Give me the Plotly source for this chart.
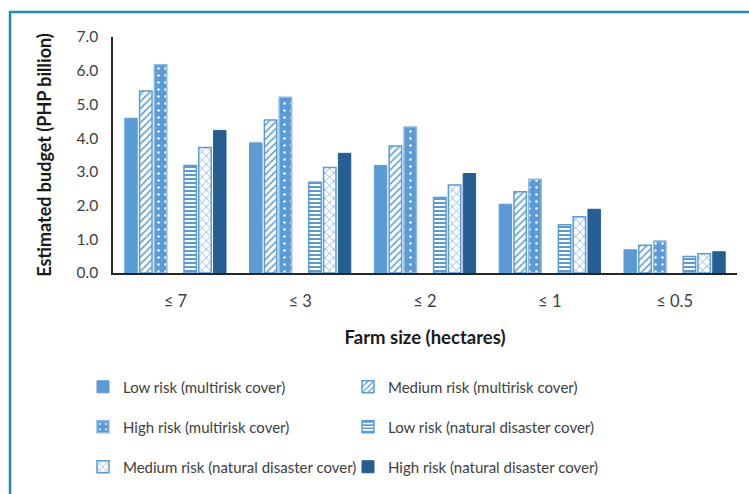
import plotly.graph_objects as go

# Farm-size categories and estimated budgets (PHP billion)
farm_sizes = ["≤ 7", "≤ 3", "≤ 2", "≤ 1", "≤ 0.5"]

low_multi = [4.59, 3.86, 3.19, 2.04, 0.69]
medium_multi = [5.40, 4.54, 3.77, 2.41, 0.82]
high_multi = [6.18, 5.21, 4.33, 2.78, 0.95]
low_natural = [3.19, 2.69, 2.24, 1.43, 0.49]
medium_natural = [3.72, 3.13, 2.61, 1.67, 0.57]
high_natural = [4.23, 3.55, 2.95, 1.89, 0.63]

y_ticks = [0, 1, 2, 3, 4, 5, 6, 7]

BLUE = "#5B9BD5"
DARK = "#255E91"
EDGE = "#8DB8E2"
TEXT = "#404040"
FONT = "Lato"

# (name, values, marker style, legend row)
series = [
    ("Low risk (multirisk cover)", low_multi,
     dict(color=BLUE, line=dict(color=BLUE, width=1)), "legend"),
    ("Medium risk (multirisk cover)", medium_multi,
     dict(color="white", line=dict(color=BLUE, width=1.5),
          pattern=dict(shape="/", fgcolor=BLUE, bgcolor="white",
                       fillmode="replace", size=5, solidity=0.3)), "legend"),
    ("High risk (multirisk cover)", high_multi,
     dict(color=BLUE, line=dict(color=EDGE, width=1.5),
          pattern=dict(shape=".", fgcolor="white", bgcolor=BLUE,
                       fillmode="replace", size=7, solidity=0.1)), "legend2"),
    ("Low risk (natural disaster cover)", low_natural,
     dict(color="white", line=dict(color=BLUE, width=1.5),
          pattern=dict(shape="-", fgcolor=BLUE, bgcolor="white",
                       fillmode="replace", size=4, solidity=0.5)), "legend2"),
    ("Medium risk (natural disaster cover)", medium_natural,
     dict(color="white", line=dict(color=BLUE, width=1.5),
          pattern=dict(shape="x", fgcolor=BLUE, bgcolor="white",
                       fillmode="replace", size=6, solidity=0.2)), "legend3"),
    ("High risk (natural disaster cover)", high_natural,
     dict(color=DARK, line=dict(color=DARK, width=1)), "legend3"),
]

fig = go.Figure()
for i, (name, vals, marker, leg) in enumerate(series):
    if i == 3:
        # empty slot separating the two cover types within each group
        fig.add_trace(go.Bar(x=farm_sizes, y=[None] * len(farm_sizes),
                             showlegend=False, hoverinfo="skip",
                             marker=dict(color="rgba(0,0,0,0)")))
    fig.add_trace(go.Bar(x=farm_sizes, y=vals, name=name, marker=marker,
                         legend=leg))

plot_h = 237
legend_rows = {"legend": 387, "legend2": 427, "legend3": 467}
legend_common = dict(
    orientation="h", x=(83 - 113) / 624, xanchor="left", yanchor="middle",
    entrywidth=220, entrywidthmode="pixels",
    font=dict(family=FONT, size=15, color=TEXT),
    itemwidth=30, traceorder="normal", bgcolor="rgba(0,0,0,0)",
)
legend_layout = {
    key: dict(legend_common, y=(274 - ypix) / plot_h)
    for key, ypix in legend_rows.items()
}

fig.update_layout(
    width=749, height=494,
    margin=dict(l=113, r=12, t=37, b=220),
    paper_bgcolor="white", plot_bgcolor="white",
    barmode="group", bargap=0.17, bargroupgap=0.16,
    font=dict(family=FONT, color=TEXT, size=15),
    showlegend=True,
    **legend_layout,
    xaxis=dict(
        showline=True, linecolor="#262626", linewidth=1.5,
        ticks="", tickfont=dict(size=16.5, color=TEXT),
        ticklabelstandoff=12,
        showgrid=False,
        title=dict(text="<b>Farm size (hectares)</b>",
                   font=dict(size=18.5, color="#1a1a1a"), standoff=22),
    ),
    yaxis=dict(
        range=[0, 7], tickvals=y_ticks, tickformat=".1f",
        showline=True, linecolor="#262626", linewidth=1.5,
        ticks="", showgrid=False, zeroline=False,
        ticklabelstandoff=10,
        tickfont=dict(size=15.5, color=TEXT),
        title=dict(text="<b>Estimated budget (PHP billion)</b>",
                   font=dict(size=18, color="#1a1a1a"), standoff=20),
    ),
    shapes=[dict(
        type="rect", xref="paper", yref="paper",
        x0=(10 - 113) / 624, x1=1.1,
        y0=-1.2, y1=1 + (37 - 12) / plot_h,
        line=dict(color="#1E8BB5", width=2.5), fillcolor="rgba(0,0,0,0)",
        layer="below",
    )],
)

fig.write_html("out.html")
